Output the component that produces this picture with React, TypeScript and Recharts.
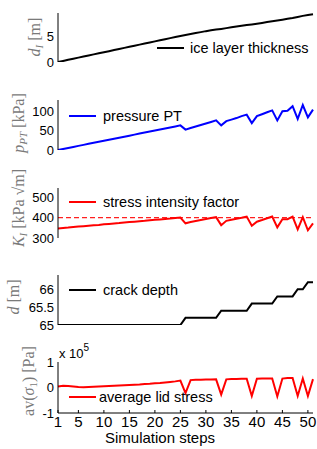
import { LineChart, Line, XAxis, YAxis } from "recharts";

// simulation step index (x)
const steps = [
  1, 2, 3, 4, 5, 6, 7, 8, 9, 10, 11, 12, 13, 14, 15, 16, 17, 18, 19, 20, 21, 22, 23, 24, 25, 26,
  27, 28, 29, 30, 31, 32, 33, 34, 35, 36, 37, 38, 39, 40, 41, 42, 43, 44, 45, 46, 47, 48, 49, 50, 51,
];

// d_I [m]
const iceThickness = [
  0, 0.21, 0.42, 0.63, 0.84, 1.04, 1.25, 1.46, 1.67, 1.88, 2.08, 2.29, 2.5, 2.71, 2.92, 3.12, 3.33,
  3.54, 3.75, 3.96, 4.17, 4.37, 4.58, 4.79, 5.0, 5.18, 5.36, 5.55, 5.73, 5.92, 6.08, 6.22, 6.35, 6.5,
  6.65, 6.8, 6.95, 7.08, 7.2, 7.34, 7.5, 7.66, 7.8, 7.94, 8.1, 8.28, 8.45, 8.65, 8.85, 9.0, 9.15,
];

// p_PT [kPa]
const pressure = [
  0, 2.7, 5.3, 8, 10.7, 13.3, 16, 18.7, 21.3, 24, 26.7, 29.3, 32, 34.7, 37.3, 40, 42.7, 45.3, 48, 50.7,
  53.3, 56, 58.7, 61.3, 64, 53, 57, 61, 65, 69, 73, 77, 64, 75, 79, 83, 88, 92, 70, 88, 93, 98, 103,
  77, 101, 102, 114, 81, 117, 85, 105,
];

// K_I [kPa sqrt(m)]
const stressIntensity = [
  347, 349, 351, 354, 356, 358, 360, 362, 364, 367, 369, 371, 373, 376, 378, 380, 382, 384, 387, 389,
  391, 393, 395, 398, 400, 372, 378, 383, 388, 393, 398, 402, 363, 384, 389, 394, 399, 405, 360, 380,
  388, 397, 405, 352, 392, 392, 405, 342, 402, 338, 372,
];
// critical value (dashed line)
const criticalK = 400;

// d [m]
const crackDepth = [
  65, 65, 65, 65, 65, 65, 65, 65, 65, 65, 65, 65, 65, 65, 65, 65, 65, 65, 65, 65, 65, 65, 65, 65, 65,
  65.2, 65.2, 65.2, 65.2, 65.2, 65.2, 65.2, 65.4, 65.4, 65.4, 65.4, 65.4, 65.4, 65.6, 65.6, 65.6, 65.6,
  65.6, 65.8, 65.8, 65.8, 65.8, 66.0, 66.0, 66.2, 66.2,
];

// av(sigma_1) [x 10^5 Pa]
const lidStress = [
  0.04, 0.07, 0.06, 0.04, 0.02, 0.01, 0.02, 0.03, 0.04, 0.05, 0.06, 0.07, 0.08, 0.09, 0.1, 0.11, 0.12,
  0.14, 0.15, 0.17, 0.18, 0.2, 0.22, 0.24, 0.27, -0.22, 0.29, 0.3, 0.3, 0.31, 0.31, 0.32, -0.28, 0.32,
  0.33, 0.33, 0.34, 0.34, -0.33, 0.34, 0.35, 0.35, 0.35, -0.35, 0.35, 0.37, 0.37, -0.33, 0.35, -0.33, 0.33,
];

const sparseTicks = [10, 30, 50];
const stepTicks = [1, 5, 10, 15, 20, 25, 30, 35, 40, 45, 50];

const data = steps.map((step, i) => ({
  step,
  ice: iceThickness[i],
  pressure: pressure[i],
  k: stressIntensity[i],
  kc: criticalK,
  depth: crackDepth[i],
  lid: lidStress[i],
}));

const SANS = "'Liberation Sans', Arial, Helvetica, sans-serif";
const SERIF = "'Liberation Serif', 'Times New Roman', serif";
const LABEL_GRAY = "#7a7a7a";
const W = 317;
const AXIS_W = 58;

type PanelProps = {
  top: number;
  plotH: number;
  dataKey: string;
  color: string;
  domain: [number, number];
  yTicks: number[];
  xTicks: number[];
  last?: boolean;
  xAxisColor?: string;
  dashedKey?: string;
};

function Panel({ top, plotH, dataKey, color, domain, yTicks, xTicks, last, xAxisColor, dashedKey }: PanelProps) {
  const xAxisH = last ? 36 : 0;
  const margin = { top: 8, right: 4, bottom: last ? 0 : 10, left: 0 };
  const height = margin.top + plotH + xAxisH + margin.bottom;
  return (
    <div style={{ position: "absolute", left: 0, top: top - margin.top }}>
      <LineChart width={W} height={height} data={data} margin={margin}>
        <XAxis
          type="number"
          dataKey="step"
          domain={[1, 51]}
          ticks={xTicks}
          interval={0}
          height={xAxisH}
          stroke="#000"
          axisLine={xAxisColor ? { stroke: xAxisColor, strokeWidth: 2 } : { stroke: "#000" }}
          tickLine={{ stroke: "#000" }}
          tickSize={-3}
          tickMargin={6}
          tick={last ? { fontSize: 15, fill: "#000", fontFamily: SANS } : false}
        />
        <YAxis
          type="number"
          domain={domain}
          ticks={yTicks}
          interval={0}
          allowDataOverflow
          width={AXIS_W}
          stroke="#000"
          tickLine={false}
          tickSize={0}
          tickMargin={4}
          tick={{ fontSize: 13, fill: "#000", fontFamily: SANS }}
        />
        {dashedKey && (
          <Line
            type="linear"
            dataKey={dashedKey}
            stroke="#ff2020"
            strokeWidth={1.3}
            strokeDasharray="5 3"
            dot={false}
            isAnimationActive={false}
          />
        )}
        <Line
          type="linear"
          dataKey={dataKey}
          stroke={color}
          strokeWidth={2}
          dot={false}
          isAnimationActive={false}
        />
      </LineChart>
    </div>
  );
}

function LegendItem({ x, y, color, text, textX }: { x: number; y: number; color: string; text: string; textX: number }) {
  return (
    <g>
      <line x1={x} x2={x + 27} y1={y} y2={y} stroke={color} strokeWidth={2} />
      <text x={textX} y={y} dominantBaseline="central" fontFamily={SANS} fontSize={14.5} fill="#000">
        {text}
      </text>
    </g>
  );
}

export default function App() {
  return (
    <div style={{ position: "fixed", left: 0, top: 0, width: W, height: 449, background: "#fff", overflow: "hidden" }}>
      <Panel top={13} plotH={49} dataKey="ice" color="#000" domain={[0, 9.4]} yTicks={[0, 5]} xTicks={sparseTicks} />
      <Panel top={100} plotH={50} dataKey="pressure" color="#0000ff" domain={[0, 130]} yTicks={[0, 50, 100]} xTicks={sparseTicks} />
      <Panel
        top={188}
        plotH={50}
        dataKey="k"
        color="#ff0000"
        domain={[300, 545]}
        yTicks={[300, 400, 500]}
        xTicks={sparseTicks}
        dashedKey="kc"
      />
      <Panel
        top={275}
        plotH={50}
        dataKey="depth"
        color="#000"
        domain={[65, 66.4]}
        yTicks={[65, 65.5, 66]}
        xTicks={stepTicks}
        xAxisColor="#8c8c8c"
      />
      <Panel top={362} plotH={51} dataKey="lid" color="#ff0000" domain={[-1, 1]} yTicks={[-1, 0, 1]} xTicks={stepTicks} last />

      <svg width={W} height={449} style={{ position: "absolute", left: 0, top: 0, pointerEvents: "none" }}>
        <LegendItem x={157} y={48} color="#000" text="ice layer thickness" textX={190} />
        <LegendItem x={69} y={116} color="#0000ff" text="pressure PT" textX={103} />
        <LegendItem x={69} y={202} color="#ff0000" text="stress intensity factor" textX={103} />
        <LegendItem x={69} y={290} color="#000" text="crack depth" textX={103} />
        <LegendItem x={69} y={397} color="#ff0000" text="average lid stress" textX={99} />

        <text x={59} y={358} fontFamily={SANS} fontSize={13} fill="#000">
          x 10<tspan fontSize={10} dy={-7}>5</tspan>
        </text>
        <text x={160} y={443} textAnchor="middle" fontFamily={SANS} fontSize={15} fill="#000">
          Simulation steps
        </text>

        <g fontFamily={SERIF} fontSize={16} fill={LABEL_GRAY} textAnchor="middle">
          <text transform="translate(40,37) rotate(-90)">
            <tspan fontStyle="italic">d</tspan>
            <tspan fontStyle="italic" fontSize={11} dy={3}>I</tspan>
            <tspan dy={-3}> [m]</tspan>
          </text>
          <text transform="translate(24,123) rotate(-90)">
            <tspan fontStyle="italic">p</tspan>
            <tspan fontStyle="italic" fontSize={11} dy={3}>PT</tspan>
            <tspan dy={-3}> [kPa]</tspan>
          </text>
          <text transform="translate(24,208) rotate(-90)">
            <tspan fontStyle="italic">K</tspan>
            <tspan fontStyle="italic" fontSize={11} dy={3}>I</tspan>
            <tspan dy={-3}> [kPa √m]</tspan>
          </text>
          <text transform="translate(19,297) rotate(-90)">
            <tspan fontStyle="italic">d</tspan>
            <tspan> [m]</tspan>
          </text>
          <text transform="translate(34,381) rotate(-90)">
            <tspan>av(</tspan>
            <tspan fontStyle="italic">σ</tspan>
            <tspan fontSize={11} dy={3}>1</tspan>
            <tspan dy={-3}>) [Pa]</tspan>
          </text>
        </g>
      </svg>
    </div>
  );
}
